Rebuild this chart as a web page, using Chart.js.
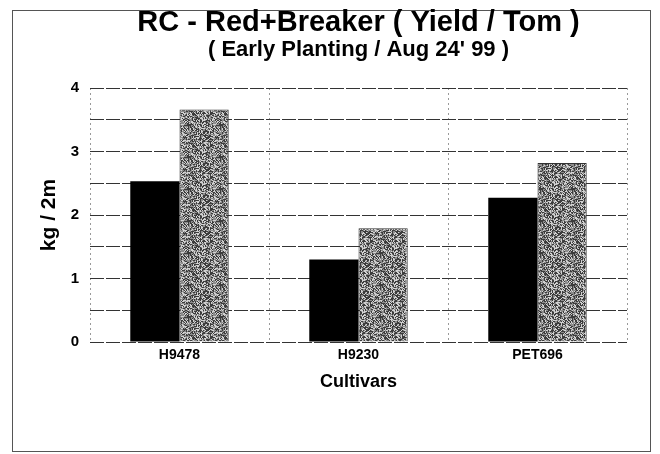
<!DOCTYPE html>
<html>
<head>
<meta charset="utf-8">
<script src="https://cdn.jsdelivr.net/npm/chart.js@4/dist/chart.umd.min.js"></script>
<style>
  html, body { margin: 0; padding: 0; background: #fff; }
  #wrap { width: 660px; height: 454px; position: relative; }
</style>
</head>
<body>
<div id="wrap"><canvas id="c" width="660" height="454"></canvas></div>
<script>
// ---- data ----
const categories = ["H9478", "H9230", "PET696"];
const seriesA = [2.53, 1.30, 2.27];   // black bars
const seriesB = [3.66, 1.79, 2.82];   // grey stippled bars
const yTickLabels = ["0", "1", "2", "3", "4"];
const titleText = "RC - Red+Breaker ( Yield / Tom )";
const subtitleText = "( Early Planting / Aug 24' 99 )";
const xTitle = "Cultivars";
const yTitle = "kg / 2m";

// stipple texture (deterministic hash, style only)
function makeStipple() {
  const s = 32;
  const c = document.createElement('canvas');
  c.width = s; c.height = s;
  const g = c.getContext('2d');
  const img = g.createImageData(s, s);
  for (let y = 0; y < s; y++) {
    for (let x = 0; x < s; x++) {
      let h = (x * 374761393 + y * 668265263) >>> 0;
      h = ((h ^ (h >>> 13)) * 1274126177) >>> 0;
      h = (h ^ (h >>> 16)) >>> 0;
      const v = (h % 256);
      const val = v < 95 ? 60 : (v < 180 ? 140 : 210);
      const i = (y * s + x) * 4;
      img.data[i] = val; img.data[i+1] = val; img.data[i+2] = val; img.data[i+3] = 255;
    }
  }
  g.putImageData(img, 0, 0);
  return g.createPattern(c, 'repeat');
}

const frame = {
  id: 'frame',
  beforeDraw(chart) {
    const ctx = chart.ctx;
    ctx.save();
    ctx.fillStyle = '#fff';
    ctx.fillRect(0, 0, chart.width, chart.height);
    ctx.strokeStyle = '#555';
    ctx.lineWidth = 1;
    ctx.strokeRect(12.5, 10.5, 638, 441);
    ctx.restore();
  }
};

const FONT = "'Liberation Sans', Arial, sans-serif";

new Chart(document.getElementById('c'), {
  type: 'bar',
  data: {
    labels: categories,
    datasets: [
      { data: seriesA, backgroundColor: '#000', borderWidth: 0 },
      { data: seriesB, backgroundColor: makeStipple(), borderColor: '#333', borderWidth: 1 }
    ]
  },
  options: {
    responsive: false,
    animation: false,
    devicePixelRatio: 1,
    layout: { padding: { left: 0, right: 33, top: 8, bottom: 61.6 } },
    datasets: { bar: { categoryPercentage: 0.55, barPercentage: 1.0 } },
    plugins: {
      legend: { display: false },
      tooltip: { enabled: false },
      title: {
        display: true, text: titleText, color: '#000', fullSize: false,
        font: { family: FONT, size: 29, weight: 'bold', lineHeight: 1.0 },
        padding: { top: 0, bottom: 0 }
      },
      subtitle: {
        display: true, text: subtitleText, color: '#000', fullSize: false,
        font: { family: FONT, size: 22, weight: 'bold', lineHeight: 1.0 },
        padding: { top: 2, bottom: 27 }
      }
    },
    scales: {
      x: {
        offset: true,
        grid: { offset: true, color: '#999', lineWidth: 1, drawTicks: false },
        border: { display: false, dash: [2, 3] },
        ticks: { color: '#000', padding: 5, font: { family: FONT, size: 14, weight: 'bold' } },
        title: {
          display: true, text: xTitle, color: '#000',
          font: { family: FONT, size: 18, weight: 'bold' },
          padding: { top: 2, bottom: 0 }
        }
      },
      y: {
        min: 0, max: 4,
        afterFit(scale) { scale.width = 90; },
        grid: { color: '#333', lineWidth: 1, drawTicks: false },
        border: { display: false, dash: [14, 2] },
        ticks: {
          stepSize: 0.5, color: '#000', padding: 11,
          font: { family: FONT, size: 15, weight: 'bold' },
          callback: (v) => Number.isInteger(v) ? yTickLabels[v] : ''
        },
        title: {
          display: true, text: yTitle, color: '#000',
          font: { family: FONT, size: 21, weight: 'bold' },
          padding: { top: 37, bottom: 0 }
        }
      }
    }
  },
  plugins: [frame]
});
</script>
</body>
</html>
